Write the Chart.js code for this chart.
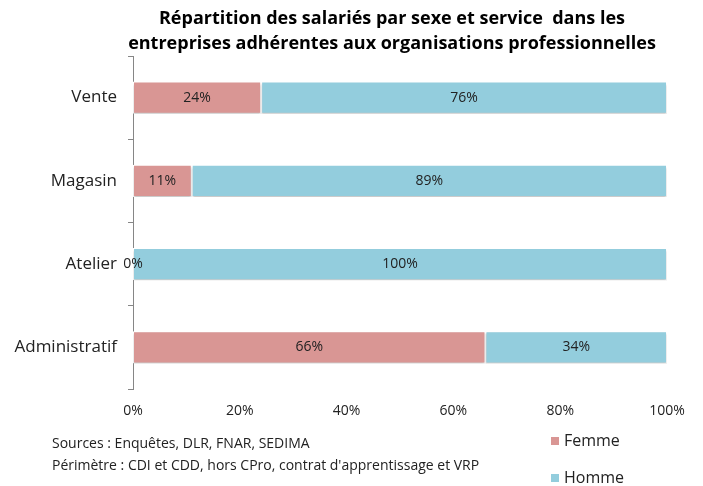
<!DOCTYPE html>
<html>
<head>
<meta charset="utf-8">
<script src="https://cdn.jsdelivr.net/npm/chart.js@4"></script>
<style>
  body { margin: 0; background: #fff; }
  #wrap { width: 703px; height: 486px; }
</style>
</head>
<body>
<div id="wrap"><canvas id="myChart" width="703" height="486"></canvas></div>
<script>
const services = ["Vente", "Magasin", "Atelier", "Administratif"];
const femme = [24, 11, 0, 66];
const homme = [76, 89, 100, 34];
const xTicks = [0, 20, 40, 60, 80, 100];
const titleLines = [
  "Répartition des salariés par sexe et service  dans les",
  "entreprises adhérentes aux organisations professionnelles",
];
const notes = [
  "Sources : Enquêtes, DLR, FNAR, SEDIMA",
  "Périmètre : CDI et CDD, hors CPro, contrat d'apprentissage et VRP",
];

const fontFamily = "'Open Sans', Lato, sans-serif";

// labels des valeurs + ombre + titre, notes et légende
const extras = {
  id: "extras",
  beforeDatasetsDraw(chart) {
    const ctx = chart.ctx;
    ctx.save();
    ctx.shadowColor = "rgba(0,0,0,0.22)";
    ctx.shadowBlur = 2;
    ctx.shadowOffsetY = 2;
  },
  afterDatasetsDraw(chart) {
    const ctx = chart.ctx;
    ctx.restore();
    ctx.save();
    ctx.font = "14px " + fontFamily;
    ctx.fillStyle = "#222";
    ctx.textAlign = "center";
    ctx.textBaseline = "middle";
    chart.data.datasets.forEach((ds, i) => {
      chart.getDatasetMeta(i).data.forEach((bar, j) => {
        const cx = (bar.x + bar.base) / 2;
        ctx.fillText(ds.data[j] + "%", cx, bar.y);
      });
    });
    ctx.restore();
  },
  afterDraw(chart) {
    const ctx = chart.ctx;
    ctx.save();
    ctx.fillStyle = "#000";
    ctx.textAlign = "center";
    ctx.textBaseline = "middle";
    ctx.font = "bold 18px " + fontFamily;
    ctx.fillText(titleLines[0], 392, 19);
    ctx.fillText(titleLines[1], 392, 44);

    ctx.textAlign = "left";
    ctx.font = "14px " + fontFamily;
    ctx.fillStyle = "#222";
    ctx.fillText(notes[0], 52, 444);
    ctx.fillText(notes[1], 52, 466);

    ctx.font = "16px " + fontFamily;
    chart.data.datasets.forEach((ds, i) => {
      const y = 441 + i * 37;
      ctx.fillStyle = ds.backgroundColor;
      ctx.fillRect(551, y - 4, 8, 8);
      ctx.fillStyle = "#222";
      ctx.fillText(ds.label, 564, y);
    });
    ctx.restore();
  },
};

new Chart(document.getElementById("myChart"), {
  type: "bar",
  data: {
    labels: services,
    datasets: [
      { label: "Femme", data: femme, backgroundColor: "#D99694" },
      { label: "Homme", data: homme, backgroundColor: "#93CDDD" },
    ],
  },
  options: {
    indexAxis: "y",
    responsive: false,
    animation: false,
    layout: { padding: { top: 56, right: 36, left: 0, bottom: 0 } },
    datasets: {
      bar: {
        categoryPercentage: 1,
        barPercentage: 0.385,
        borderColor: "#fff",
        borderWidth: 1,
        borderSkipped: false,
      },
    },
    plugins: {
      legend: { display: false },
      tooltip: { enabled: false },
    },
    scales: {
      x: {
        stacked: true,
        min: 0,
        max: 100,
        border: { display: false },
        grid: { display: false, drawTicks: false },
        afterFit: (s) => { s.height = 97; },
        afterBuildTicks: (s) => { s.ticks = xTicks.map((v) => ({ value: v })); },
        ticks: {
          padding: 14,
          color: "#222",
          font: { family: fontFamily, size: 14 },
          callback: (v) => v + "%",
        },
      },
      y: {
        stacked: true,
        border: { display: true, color: "#868686", width: 1 },
        grid: {
          offset: true,
          drawOnChartArea: false,
          drawTicks: true,
          tickLength: 5,
          color: "#868686",
        },
        afterFit: (s) => { s.width = 133; },
        ticks: {
          padding: 11,
          color: "#222",
          font: { family: fontFamily, size: 17 },
        },
      },
    },
  },
  plugins: [extras],
});
</script>
</body>
</html>
